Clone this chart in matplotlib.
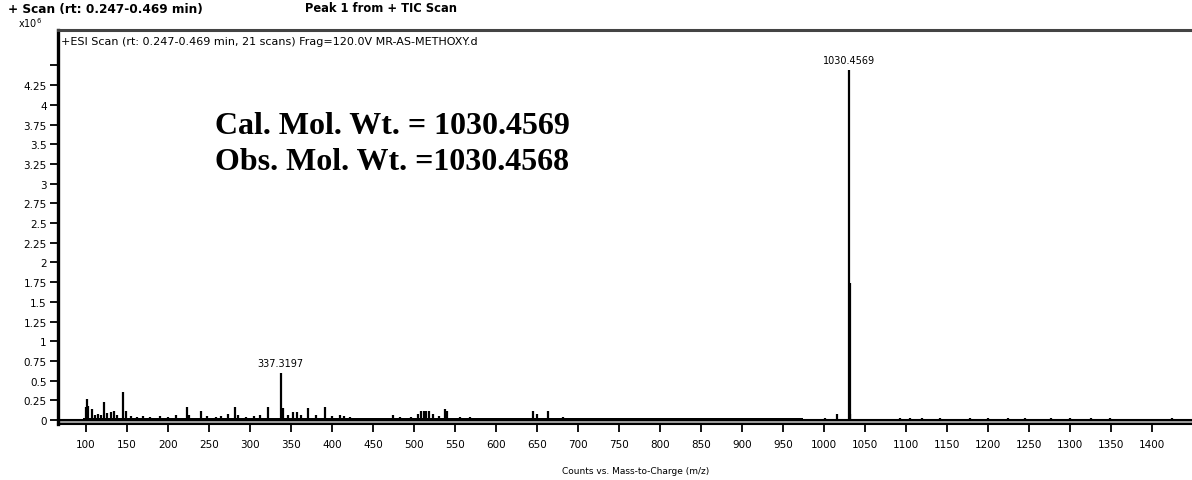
import numpy as np
from matplotlib import pyplot as plt

# peak list: m/z and counts (x10^6)
peak_mz = [
    99.5, 100.8, 102.8, 107.0, 111.0, 114.5, 118.0, 122.0, 126.0, 130.0,
    134.5, 138.0, 145.5, 148.3, 155.0, 162.0, 170.0, 178.0, 190.0, 200.0,
    210.0, 222.8, 226.0, 240.0, 248.0, 258.0, 265.0, 273.0, 281.7, 285.0,
    295.0, 305.0, 312.0, 322.4, 337.3, 339.8, 346.0, 352.0, 357.0, 362.0,
    371.0, 380.0, 391.5, 400.0, 409.8, 415.0, 422.0, 474.8, 483.0, 496.0,
    505.0, 509.0, 512.0, 515.0, 519.0, 523.0, 530.0, 538.0, 540.0, 556.0,
    568.0, 596.0, 645.0, 650.0, 663.0, 682.0, 1001.0, 1015.5, 1030.46,
    1031.46, 1032.46, 1093.0, 1105.0, 1120.0, 1142.0, 1178.0, 1200.0,
    1224.0, 1245.0, 1277.0, 1300.0, 1326.0, 1349.0, 1424.0,
]
peak_int = [
    0.16, 0.27, 0.18, 0.14, 0.07, 0.08, 0.06, 0.23, 0.09, 0.10,
    0.12, 0.06, 0.36, 0.12, 0.05, 0.04, 0.05, 0.04, 0.05, 0.04,
    0.06, 0.16, 0.06, 0.12, 0.05, 0.04, 0.05, 0.08, 0.16, 0.06,
    0.04, 0.05, 0.06, 0.16, 0.60, 0.15, 0.06, 0.10, 0.10, 0.06,
    0.15, 0.06, 0.16, 0.05, 0.07, 0.05, 0.04, 0.07, 0.04, 0.04,
    0.08, 0.11, 0.12, 0.12, 0.11, 0.08, 0.05, 0.14, 0.12, 0.04,
    0.04, 0.03, 0.12, 0.08, 0.12, 0.04, 0.03, 0.08, 4.44,
    1.74, 0.08, 0.03, 0.03, 0.03, 0.02, 0.02, 0.02,
    0.02, 0.02, 0.02, 0.02, 0.02, 0.02, 0.02,
]
# dense baseline noise band
noise_mz = [97, 975]
noise_level = [0.03, 0.03]

labelled_mz = [337.3197, 1030.4569]
labelled_int = [0.60, 4.44]

x_ticks = list(range(100, 1401, 50))
y_ticks = [0, 0.25, 0.5, 0.75, 1, 1.25, 1.5, 1.75, 2, 2.25, 2.5, 2.75,
           3, 3.25, 3.5, 3.75, 4, 4.25, 4.5]
y_labels = ["0", "0.25", "0.5", "0.75", "1", "1.25", "1.5", "1.75", "2",
            "2.25", "2.5", "2.75", "3", "3.25", "3.5", "3.75", "4", "4.25", ""]


def main():
    fig = plt.figure(figsize=(11.92, 4.81), dpi=100)
    ax = fig.add_axes([58 / 1192, 1 - 425 / 481, 1 - 58 / 1192, 394 / 481])

    ax.axhspan(-0.05, 0, color="#a0a0a0", lw=0)
    ax.fill_between(noise_mz, 0, noise_level, color="black", lw=0)
    ax.vlines(peak_mz, 0, peak_int, color="black", lw=1.6)
    ax.axhline(0, color="black", lw=1.5)

    for mz, inten in zip(labelled_mz, labelled_int):
        ax.text(mz, inten + 0.06, f"{mz:.4f}", ha="center", va="bottom",
                fontsize=7)

    ax.set_xlim(65.9, 1449)
    ax.set_ylim(-0.05, 4.95)
    ax.set_xticks(x_ticks)
    ax.set_xticklabels([str(t) for t in x_ticks], fontsize=7.5)
    ax.set_yticks(y_ticks)
    ax.set_yticklabels(y_labels, fontsize=7.5)
    ax.tick_params(axis="both", direction="out", length=6, width=1.3, pad=2)
    ax.tick_params(axis="x", pad=5)

    ax.spines["right"].set_visible(False)
    ax.spines["left"].set_linewidth(2.4)
    ax.spines["bottom"].set_linewidth(1.5)
    ax.spines["top"].set_linewidth(2.2)
    ax.spines["top"].set_color("#444444")

    ax.text(0.003, 0.985, "+ESI Scan (rt: 0.247-0.469 min, 21 scans) Frag=120.0V MR-AS-METHOXY.d",
            transform=ax.transAxes, ha="left", va="top", fontsize=8)

    fig.text(18 / 1192, 1 - 23 / 481, r"x10$^6$", fontsize=7, va="center")
    fig.text(8 / 1192, 1 - 9 / 481, "+ Scan (rt: 0.247-0.469 min)",
             fontsize=8.7, fontweight="bold", va="center")
    fig.text(305 / 1192, 1 - 9 / 481, "Peak 1 from + TIC Scan",
             fontsize=8.3, fontweight="bold", va="center")
    fig.text(636 / 1192, 1 - 472 / 481, "Counts vs. Mass-to-Charge (m/z)",
             fontsize=6.5, ha="center", va="center")

    fig.text(215 / 1192, 1 - 127 / 481, "Cal. Mol. Wt. = 1030.4569",
             family="Liberation Serif", fontweight="bold", fontsize=23,
             va="center")
    fig.text(215 / 1192, 1 - 163 / 481, "Obs. Mol. Wt. =1030.4568",
             family="Liberation Serif", fontweight="bold", fontsize=23,
             va="center")

    fig.savefig("out.png", dpi=100)


if __name__ == "__main__":
    main()
